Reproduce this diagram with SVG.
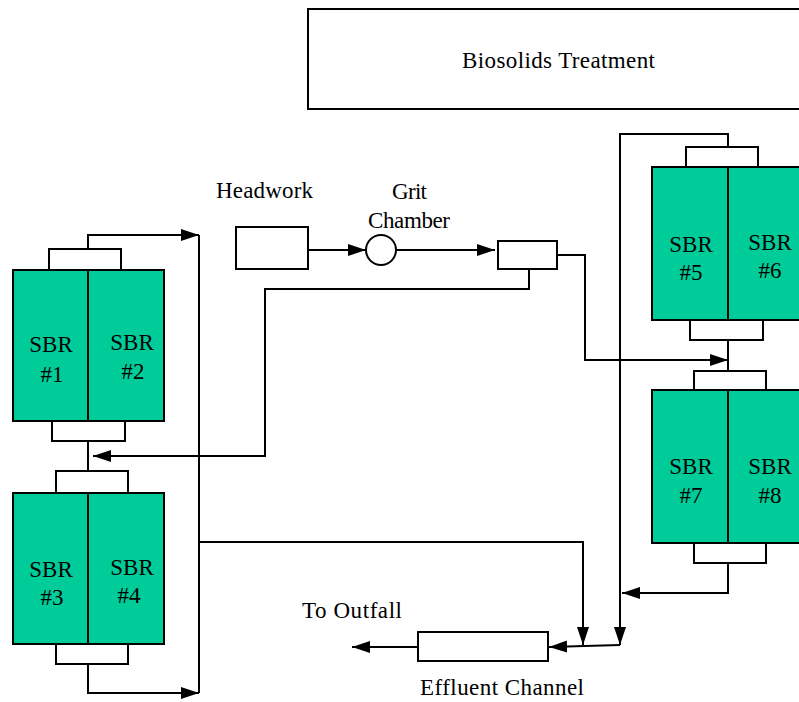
<svg xmlns="http://www.w3.org/2000/svg" width="799" height="702" viewBox="0 0 799 702">
<style>
text{font-family:'Liberation Serif','DejaVu Serif',serif;fill:#000;font-size:23px}
.sbr{text-anchor:middle}
.blk{fill:#00CC99;stroke:#000;stroke-width:2}
.box{fill:#fff;stroke:#000;stroke-width:2}
.ln{fill:none;stroke:#000;stroke-width:2}
.c{fill:none;stroke:#000;stroke-width:2}
</style>
<defs>
<marker id="ah" markerUnits="userSpaceOnUse" markerWidth="18" markerHeight="12" refX="18" refY="6" orient="auto">
<path d="M0,0 L18,6 L0,12 z" fill="#000"/>
</marker>
</defs>
<rect width="799" height="702" fill="#fff"/>

<g id="biosolids">
<rect class="box" x="308" y="9" width="500" height="100"/>
<text x="462" y="68" textLength="193">Biosolids Treatment</text>
</g>

<g id="headwork">
<rect class="box" x="236" y="227" width="72" height="42"/>
<text x="216" y="198" textLength="97">Headwork</text>
</g>

<g id="grit">
<circle class="box" cx="381" cy="250" r="15"/>
<text x="392" y="199" textLength="35">Grit</text>
<text x="368" y="228" textLength="82">Chamber</text>
</g>

<g id="splitter">
<rect class="box" x="498" y="241" width="59" height="28"/>
</g>

<g id="sbr12">
<rect class="c" x="49" y="249" width="72" height="21"/>
<rect class="c" x="52" y="421" width="73" height="20"/>
<rect class="blk" x="13" y="270" width="151" height="151"/>
<line class="ln" x1="88" y1="270" x2="88" y2="421"/>
<text class="sbr" x="51" y="352">SBR</text>
<text class="sbr" x="52" y="382">#1</text>
<text class="sbr" x="132" y="350">SBR</text>
<text class="sbr" x="133" y="379">#2</text>
</g>

<g id="sbr34">
<rect class="c" x="56" y="471" width="72" height="22"/>
<rect class="c" x="56" y="644" width="72" height="20"/>
<rect class="blk" x="13" y="493" width="151" height="151"/>
<line class="ln" x1="88" y1="493" x2="88" y2="644"/>
<text class="sbr" x="51" y="577">SBR</text>
<text class="sbr" x="52" y="605">#3</text>
<text class="sbr" x="132" y="575">SBR</text>
<text class="sbr" x="129" y="603">#4</text>
</g>

<g id="sbr56">
<rect class="c" x="686" y="147" width="72" height="20"/>
<rect class="c" x="690" y="320" width="73" height="20"/>
<rect class="blk" x="652" y="167" width="151" height="153"/>
<line class="ln" x1="728" y1="167" x2="728" y2="320"/>
<text class="sbr" x="691" y="252">SBR</text>
<text class="sbr" x="691" y="280">#5</text>
<text class="sbr" x="770" y="250">SBR</text>
<text class="sbr" x="770" y="278">#6</text>
</g>

<g id="sbr78">
<rect class="c" x="694" y="371" width="72" height="19"/>
<rect class="c" x="694" y="543" width="72" height="20"/>
<rect class="blk" x="652" y="390" width="151" height="153"/>
<line class="ln" x1="728" y1="390" x2="728" y2="543"/>
<text class="sbr" x="691" y="474">SBR</text>
<text class="sbr" x="691" y="503">#7</text>
<text class="sbr" x="770" y="474">SBR</text>
<text class="sbr" x="770" y="503">#8</text>
</g>

<g id="effluent">
<rect class="box" x="418" y="632" width="130" height="29"/>
<text x="420" y="695" textLength="164">Effluent Channel</text>
</g>

<g id="outfall">
<text x="302" y="618" textLength="100">To Outfall</text>
</g>

<g id="connectors">
<path class="ln" d="M88,249 V235 H199" marker-end="url(#ah)"/>
<path class="ln" d="M199,235 V693"/>
<path class="ln" d="M88,664 V693 H199" marker-end="url(#ah)"/>
<path class="ln" d="M88,441 V471"/>
<path class="ln" d="M199,542 H583 V645" marker-end="url(#ah)"/>
<path class="ln" d="M308,250 H366" marker-end="url(#ah)"/>
<path class="ln" d="M396,250 H495" marker-end="url(#ah)"/>
<path class="ln" d="M557,255 H585 V360 H728" marker-end="url(#ah)"/>
<path class="ln" d="M529,269 V289 H265 V456 H93" marker-end="url(#ah)"/>
<path class="ln" d="M728,147 V134 H620 V645" marker-end="url(#ah)"/>
<path class="ln" d="M728,340 V371"/>
<path class="ln" d="M728,563 V593 H622" marker-end="url(#ah)"/>
<path class="ln" d="M620,645 L549,647" marker-end="url(#ah)"/>
<path class="ln" d="M418,647 H352" marker-end="url(#ah)"/>
</g>
</svg>
